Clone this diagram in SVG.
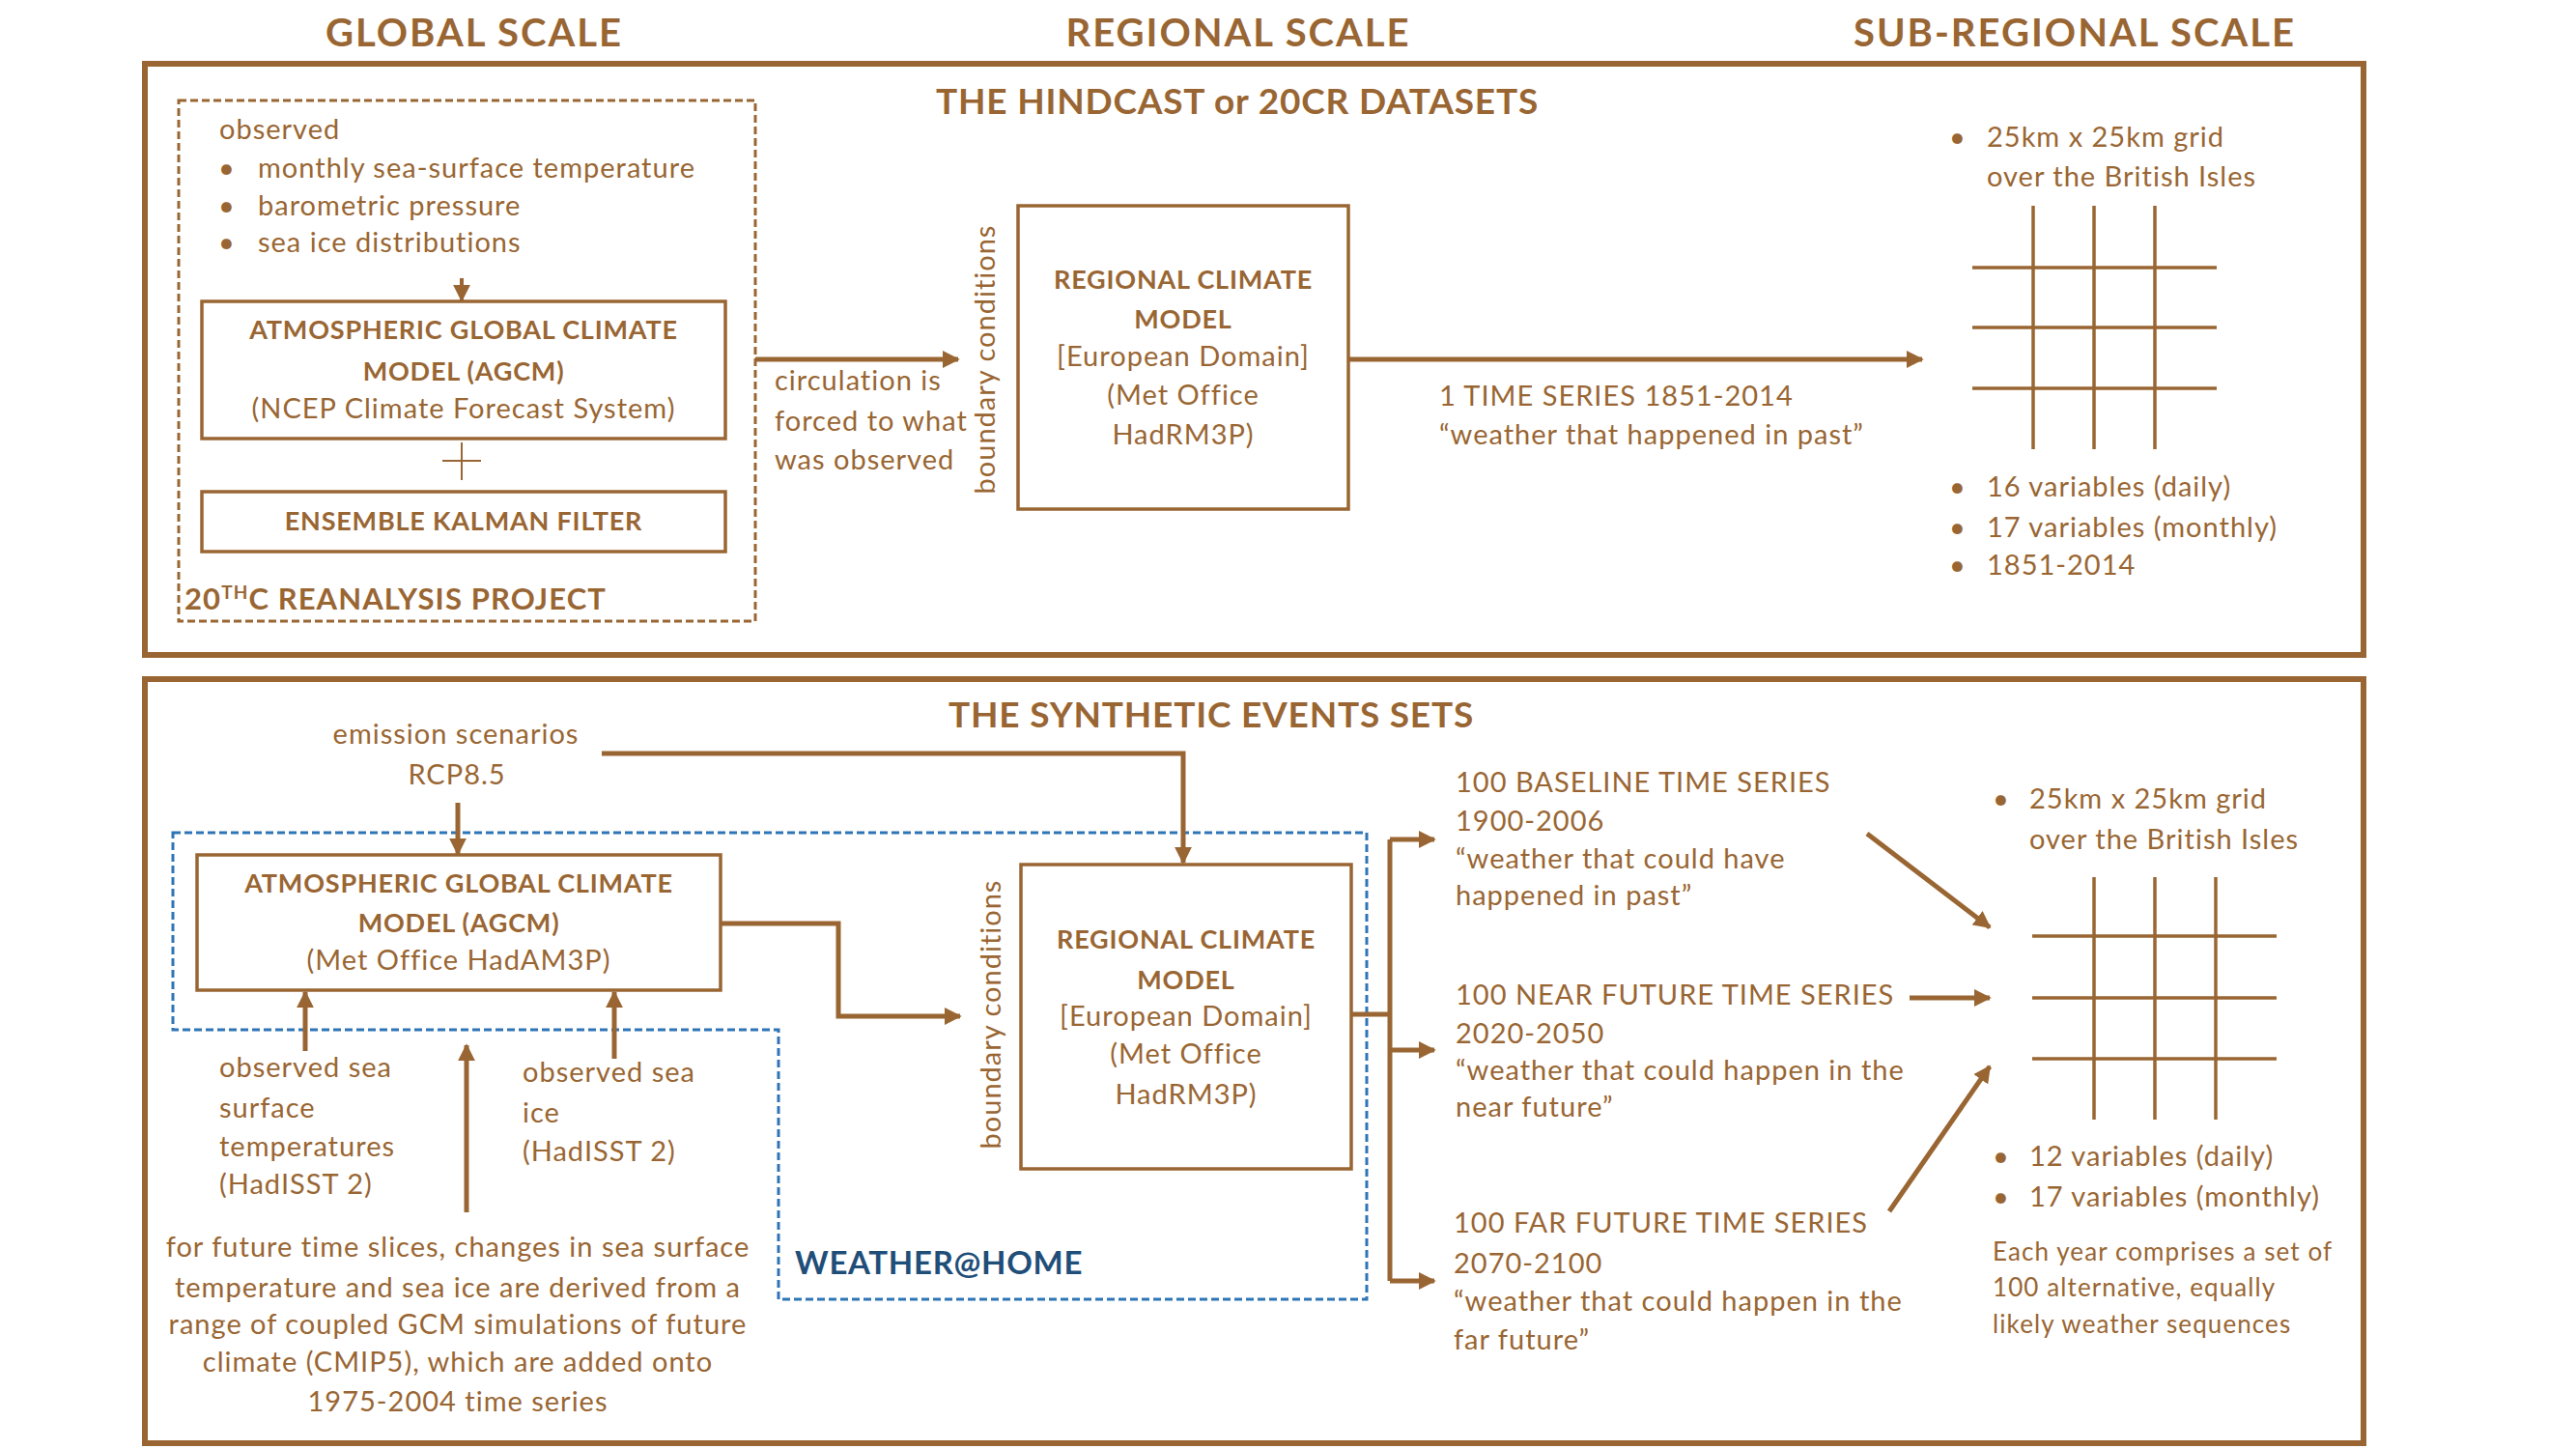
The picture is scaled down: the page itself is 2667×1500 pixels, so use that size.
<svg xmlns="http://www.w3.org/2000/svg" width="2667" height="1500" viewBox="0 0 2667 1500">
<defs>
<style>
text{font-family:Lato,"Open Sans","Liberation Sans",sans-serif;fill:#996633;}
.h{font-size:40px;font-weight:bold;text-anchor:middle;letter-spacing:2px;}
.t{font-size:37px;font-weight:bold;text-anchor:middle;letter-spacing:0.8px;}
.nb{font-size:27px;font-weight:bold;text-anchor:middle;letter-spacing:0.8px;}
.nr{font-size:29px;text-anchor:middle;letter-spacing:1px;}
.b{font-size:29px;letter-spacing:1px;}
.s{font-size:26px;letter-spacing:1.1px;}
.frame{fill:none;stroke:#996633;stroke-width:6;}
.box{fill:#fff;stroke:#996633;stroke-width:3.5;}
.dash{fill:none;stroke:#996633;stroke-width:3;stroke-dasharray:8 4;}
.blue{fill:none;stroke:#2E75B6;stroke-width:3;stroke-dasharray:8 4;}
.c{fill:none;stroke:#996633;stroke-width:5;}
.g{stroke:#996633;stroke-width:3.5;}
</style>
<marker id="ah" viewBox="0 0 10 10" refX="9" refY="5" markerUnits="userSpaceOnUse" markerWidth="18" markerHeight="18" orient="auto">
<path d="M0,0 L10,5 L0,10 z" fill="#996633"/>
</marker>
</defs>
<rect width="2667" height="1500" fill="#fff"/>

<g id="headings">
<text class="h" x="491" y="48">GLOBAL SCALE</text>
<text class="h" x="1282" y="48">REGIONAL SCALE</text>
<text class="h" x="2148" y="48">SUB-REGIONAL SCALE</text>
</g>

<g id="hindcast-frame">
<rect class="frame" x="150" y="66" width="2297" height="612"/>
<text class="t" x="1281" y="118">THE HINDCAST or 20CR DATASETS</text>
</g>

<g id="synthetic-frame">
<rect class="frame" x="150" y="703" width="2297" height="791"/>
<text class="t" x="1254" y="753">THE SYNTHETIC EVENTS SETS</text>
</g>

<g id="reanalysis-project">
<rect class="dash" x="185" y="104" width="597" height="539"/>
<text class="b" x="227" y="144">observed</text>
<text class="b" x="226" y="184">•</text><text class="b" x="267" y="184">monthly sea-surface temperature</text>
<text class="b" x="226" y="223">•</text><text class="b" x="267" y="223">barometric pressure</text>
<text class="b" x="226" y="261">•</text><text class="b" x="267" y="261">sea ice distributions</text>
<text x="191" y="631" style="font-size:31px;font-weight:bold;letter-spacing:1.1px">20<tspan font-size="19" dy="-11">TH</tspan><tspan dy="11">C REANALYSIS PROJECT</tspan></text>
</g>

<g id="agcm-hindcast">
<rect class="box" x="209" y="312" width="542" height="142"/>
<text class="nb" x="480" y="351">ATMOSPHERIC GLOBAL CLIMATE</text>
<text class="nb" x="480" y="394">MODEL (AGCM)</text>
<text class="nr" x="480" y="433">(NCEP Climate Forecast System)</text>
</g>

<g id="plus">
<line x1="478" y1="458" x2="478" y2="497" stroke="#996633" stroke-width="2"/>
<line x1="458" y1="477" x2="498" y2="477" stroke="#996633" stroke-width="2"/>
</g>

<g id="ensemble-kalman-filter">
<rect class="box" x="209" y="509" width="542" height="62"/>
<text class="nb" x="480" y="549">ENSEMBLE KALMAN FILTER</text>
</g>

<g id="rcm-hindcast">
<rect class="box" x="1054" y="213" width="342" height="314"/>
<text class="nb" x="1225" y="299">REGIONAL CLIMATE</text>
<text class="nb" x="1225" y="340">MODEL</text>
<text class="nr" x="1225" y="379">[European Domain]</text>
<text class="nr" x="1225" y="419">(Met Office</text>
<text class="nr" x="1225" y="460">HadRM3P)</text>
</g>

<g id="grid-hindcast">
<text class="b" x="2018" y="152">•</text><text class="b" x="2057" y="152">25km x 25km grid</text>
<text class="b" x="2057" y="193">over the British Isles</text>
<line class="g" x1="2105" y1="213" x2="2105" y2="465"/>
<line class="g" x1="2168" y1="213" x2="2168" y2="465"/>
<line class="g" x1="2231" y1="213" x2="2231" y2="465"/>
<line class="g" x1="2042" y1="277" x2="2295" y2="277"/>
<line class="g" x1="2042" y1="339" x2="2295" y2="339"/>
<line class="g" x1="2042" y1="402" x2="2295" y2="402"/>
<text class="b" x="2018" y="514">•</text><text class="b" x="2057" y="514">16 variables (daily)</text>
<text class="b" x="2018" y="556">•</text><text class="b" x="2057" y="556">17 variables (monthly)</text>
<text class="b" x="2018" y="595">•</text><text class="b" x="2057" y="595">1851-2014</text>
</g>

<g id="weather-at-home">
<path class="blue" d="M179,862 L1415,862 L1415,1345 L806,1345 L806,1066 L179,1066 Z"/>
<text x="823" y="1319" style="font-size:33px;font-weight:bold;letter-spacing:0.7px;fill:#1F4E79">WEATHER@HOME</text>
</g>

<g id="emission-scenarios">
<text class="nr" x="472" y="770">emission scenarios</text>
<text class="nr" x="473" y="812">RCP8.5</text>
</g>

<g id="agcm-synthetic">
<rect class="box" x="204" y="885" width="542" height="140"/>
<text class="nb" x="475" y="924">ATMOSPHERIC GLOBAL CLIMATE</text>
<text class="nb" x="475" y="965">MODEL (AGCM)</text>
<text class="nr" x="475" y="1004">(Met Office HadAM3P)</text>
</g>

<g id="observed-sst">
<text class="b" x="227" y="1115">observed sea</text>
<text class="b" x="227" y="1157">surface</text>
<text class="b" x="227" y="1197">temperatures</text>
<text class="b" x="227" y="1236">(HadISST 2)</text>
</g>

<g id="observed-sea-ice">
<text class="b" x="541" y="1120">observed sea</text>
<text class="b" x="541" y="1162">ice</text>
<text class="b" x="541" y="1202">(HadISST 2)</text>
</g>

<g id="future-changes">
<text class="nr" x="474" y="1301">for future time slices, changes in sea surface</text>
<text class="nr" x="474" y="1343">temperature and sea ice are derived from a</text>
<text class="nr" x="474" y="1381">range of coupled GCM simulations of future</text>
<text class="nr" x="474" y="1420">climate (CMIP5), which are added onto</text>
<text class="nr" x="474" y="1461">1975-2004 time series</text>
</g>

<g id="rcm-synthetic">
<rect class="box" x="1057" y="895" width="342" height="315"/>
<text class="nb" x="1228" y="982">REGIONAL CLIMATE</text>
<text class="nb" x="1228" y="1024">MODEL</text>
<text class="nr" x="1228" y="1062">[European Domain]</text>
<text class="nr" x="1228" y="1101">(Met Office</text>
<text class="nr" x="1228" y="1143">HadRM3P)</text>
</g>

<g id="baseline-series">
<text class="b" x="1507" y="820">100 BASELINE TIME SERIES</text>
<text class="b" x="1507" y="860">1900-2006</text>
<text class="b" x="1507" y="899">“weather that could have</text>
<text class="b" x="1507" y="937">happened in past”</text>
</g>

<g id="near-future-series">
<text class="b" x="1507" y="1040">100 NEAR FUTURE TIME SERIES</text>
<text class="b" x="1507" y="1080">2020-2050</text>
<text class="b" x="1507" y="1118">“weather that could happen in the</text>
<text class="b" x="1507" y="1156">near future”</text>
</g>

<g id="far-future-series">
<text class="b" x="1505" y="1276">100 FAR FUTURE TIME SERIES</text>
<text class="b" x="1505" y="1318">2070-2100</text>
<text class="b" x="1505" y="1357">“weather that could happen in the</text>
<text class="b" x="1505" y="1397">far future”</text>
</g>

<g id="grid-synthetic">
<text class="b" x="2063" y="837">•</text><text class="b" x="2101" y="837">25km x 25km grid</text>
<text class="b" x="2101" y="879">over the British Isles</text>
<line class="g" x1="2168" y1="908" x2="2168" y2="1159"/>
<line class="g" x1="2231" y1="908" x2="2231" y2="1159"/>
<line class="g" x1="2294" y1="908" x2="2294" y2="1159"/>
<line class="g" x1="2104" y1="969" x2="2357" y2="969"/>
<line class="g" x1="2104" y1="1033" x2="2357" y2="1033"/>
<line class="g" x1="2104" y1="1096" x2="2357" y2="1096"/>
<text class="b" x="2063" y="1207">•</text><text class="b" x="2101" y="1207">12 variables (daily)</text>
<text class="b" x="2063" y="1249">•</text><text class="b" x="2101" y="1249">17 variables (monthly)</text>
<text class="s" x="2063" y="1305">Each year comprises a set of</text>
<text class="s" x="2063" y="1342">100 alternative, equally</text>
<text class="s" x="2063" y="1380">likely weather sequences</text>
</g>

<g id="connectors">
<path d="M478,288 L478,311" fill="none" stroke="#996633" stroke-width="4" marker-end="url(#ah)"/>
<path class="c" d="M782,372 L992,372" marker-end="url(#ah)"/>
<path class="c" d="M1396,372 L1990,372" marker-end="url(#ah)"/>
<path class="c" d="M623,780 L1225,780 L1225,893" marker-end="url(#ah)"/>
<path class="c" d="M474,831 L474,884" marker-end="url(#ah)"/>
<path class="c" d="M746,956 L868,956 L868,1052 L994,1052" marker-end="url(#ah)"/>
<path class="c" d="M316,1088 L316,1027" marker-end="url(#ah)"/>
<path class="c" d="M636,1096 L636,1027" marker-end="url(#ah)"/>
<path class="c" d="M483,1255 L483,1082" marker-end="url(#ah)"/>
<path class="c" d="M1399,1050 L1439,1050"/>
<path class="c" d="M1439,869 L1439,1326"/>
<path class="c" d="M1439,869 L1485,869" marker-end="url(#ah)"/>
<path class="c" d="M1439,1087 L1485,1087" marker-end="url(#ah)"/>
<path class="c" d="M1439,1326 L1485,1326" marker-end="url(#ah)"/>
<path class="c" d="M1933,863 L2060,960" marker-end="url(#ah)"/>
<path class="c" d="M1977,1033 L2060,1033" marker-end="url(#ah)"/>
<path class="c" d="M1956,1254 L2060,1104" marker-end="url(#ah)"/>
<text class="b" transform="translate(1030,372) rotate(-90)" text-anchor="middle">boundary conditions</text>
<text class="b" transform="translate(1036,1050) rotate(-90)" text-anchor="middle">boundary conditions</text>
<text class="b" x="802" y="404">circulation is</text>
<text class="b" x="802" y="446">forced to what</text>
<text class="b" x="802" y="486">was observed</text>
<text class="b" x="1490" y="420">1 TIME SERIES 1851-2014</text>
<text class="b" x="1490" y="460">“weather that happened in past”</text>
</g>
</svg>
